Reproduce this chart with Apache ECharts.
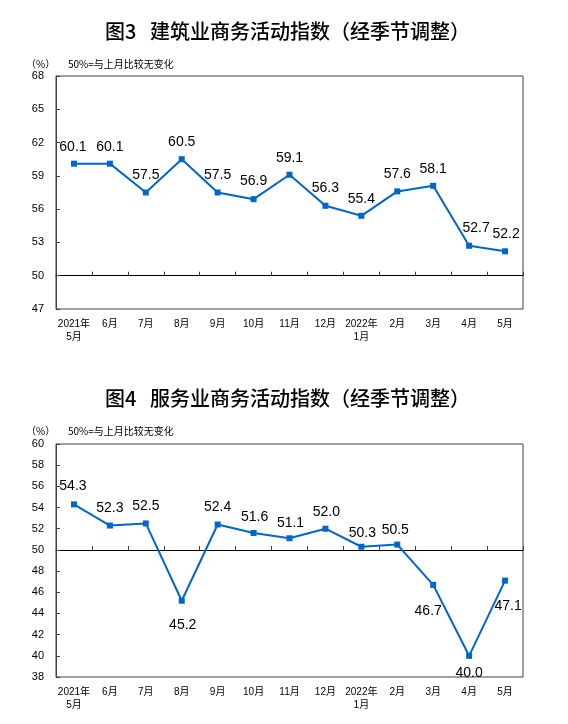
<!DOCTYPE html>
<html>
<head>
<meta charset="utf-8">
<script src="https://cdn.jsdelivr.net/npm/echarts@6/dist/echarts.min.js"></script>
<style>
html, body { margin: 0; padding: 0; background: #fff; }
#chart { width: 568px; height: 724px; }
</style>
</head>
<body>
<div id="chart"></div>
<script>
// 月份
const months = ['2021年\n5月', '6月', '7月', '8月', '9月', '10月', '11月', '12月', '2022年\n1月', '2月', '3月', '4月', '5月']
// 建筑业商务活动指数
const buildValues = [60.1, 60.1, 57.5, 60.5, 57.5, 56.9, 59.1, 56.3, 55.4, 57.6, 58.1, 52.7, 52.2]
// 服务业商务活动指数
const serviceValues = [54.3, 52.3, 52.5, 45.2, 52.4, 51.6, 51.1, 52.0, 50.3, 50.5, 46.7, 40.0, 47.1]
// 纵轴刻度
const buildTicks = [47, 50, 53, 56, 59, 62, 65, 68]
const serviceTicks = [38, 40, 42, 44, 46, 48, 50, 52, 54, 56, 58, 60]

// 数值标签相对数据点的偏移
const buildLabelOffset = [[-1, -17], [0, -17], [0, -17], [0, -17], [0, -17], [0, -18], [0, -17], [0, -18], [0, -17], [0, -17], [0, -17], [7, -18], [1, -17]]
const serviceLabelOffset = [[-1, -18], [0, -17], [0, -17], [1, 24], [0, -17], [1, -16], [1, -15], [1, -17], [1, -14], [-2, -14], [-5, 26], [0, 17], [3, 26]]

const lineColor = '#0066CC'
const borderColor = '#404040'
const numFont = 'Liberation Sans, Arial, Noto Sans CJK SC'
const cjkFont = 'Noto Sans CJK SC'

const gridH = 233

function header (text, top) {
  return [
    {
      text: text,
      left: 105,
      top: top,
      padding: 0,
      textStyle: { fontSize: 20, fontWeight: 500, color: '#000', fontFamily: cjkFont }
    },
    {
      text: '（%）',
      left: 26,
      top: top + 38,
      padding: 0,
      textStyle: { fontSize: 10, fontWeight: 'normal', color: '#000', fontFamily: cjkFont }
    },
    {
      text: '50%=与上月比较无变化',
      left: 68,
      top: top + 38,
      padding: 0,
      textStyle: { fontSize: 10, fontWeight: 'normal', color: '#000', fontFamily: cjkFont }
    }
  ]
}

function yAxisOf (ticks, gridIndex) {
  return {
    type: 'value',
    gridIndex: gridIndex,
    min: ticks[0],
    max: ticks[ticks.length - 1],
    interval: ticks[1] - ticks[0],
    axisLine: { show: true, lineStyle: { color: borderColor, width: 1 } },
    axisTick: { show: true, inside: true, length: 4, lineStyle: { color: borderColor } },
    splitLine: { show: false },
    axisLabel: { fontSize: 11, color: '#000', margin: 12, fontFamily: numFont }
  }
}

// 底部月份标签
function labelAxisOf (gridIndex) {
  return {
    type: 'category',
    gridIndex: gridIndex,
    data: months,
    position: 'bottom',
    axisLine: { show: false, onZero: false },
    axisTick: { show: false },
    axisLabel: { interval: 0, fontSize: 10, color: '#000', margin: 9, lineHeight: 13, fontFamily: numFont }
  }
}

// 50% 基准线及其刻度
function baseAxisOf (gridIndex, ticks) {
  const span = ticks[ticks.length - 1] - ticks[0]
  return {
    type: 'category',
    gridIndex: gridIndex,
    data: months,
    position: 'top',
    offset: -gridH * (ticks[ticks.length - 1] - 50) / span,
    axisLine: { show: true, onZero: false, lineStyle: { color: '#000', width: 1 } },
    axisTick: { show: true, inside: false, length: 4, interval: 0, lineStyle: { color: borderColor } },
    axisLabel: { show: false }
  }
}

function seriesOf (values, offsets, axisIndex) {
  return {
    type: 'line',
    xAxisIndex: axisIndex,
    yAxisIndex: axisIndex / 2,
    data: values.map((v, i) => ({ value: v, label: { offset: offsets[i] } })),
    symbol: 'rect',
    symbolSize: 6,
    showAllSymbol: true,
    lineStyle: { color: lineColor, width: 2 },
    itemStyle: { color: lineColor },
    label: {
      show: true,
      position: 'inside',
      fontSize: 14,
      color: '#000',
      fontFamily: numFont,
      formatter: p => p.value.toFixed(1)
    },
    animation: false
  }
}

const option = {
  backgroundColor: '#fff',
  animation: false,
  title: header('图3   建筑业商务活动指数（经季节调整）', 21).concat(header('图4   服务业商务活动指数（经季节调整）', 388)),
  grid: [
    { left: 56, right: 45, top: 76, height: gridH, show: true, borderColor: borderColor, borderWidth: 1 },
    { left: 56, right: 45, top: 444, height: gridH, show: true, borderColor: borderColor, borderWidth: 1 }
  ],
  xAxis: [
    labelAxisOf(0), baseAxisOf(0, buildTicks),
    labelAxisOf(1), baseAxisOf(1, serviceTicks)
  ],
  yAxis: [yAxisOf(buildTicks, 0), yAxisOf(serviceTicks, 1)],
  series: [
    seriesOf(buildValues, buildLabelOffset, 0),
    seriesOf(serviceValues, serviceLabelOffset, 2)
  ]
}

echarts.init(document.getElementById('chart')).setOption(option)
</script>
</body>
</html>
